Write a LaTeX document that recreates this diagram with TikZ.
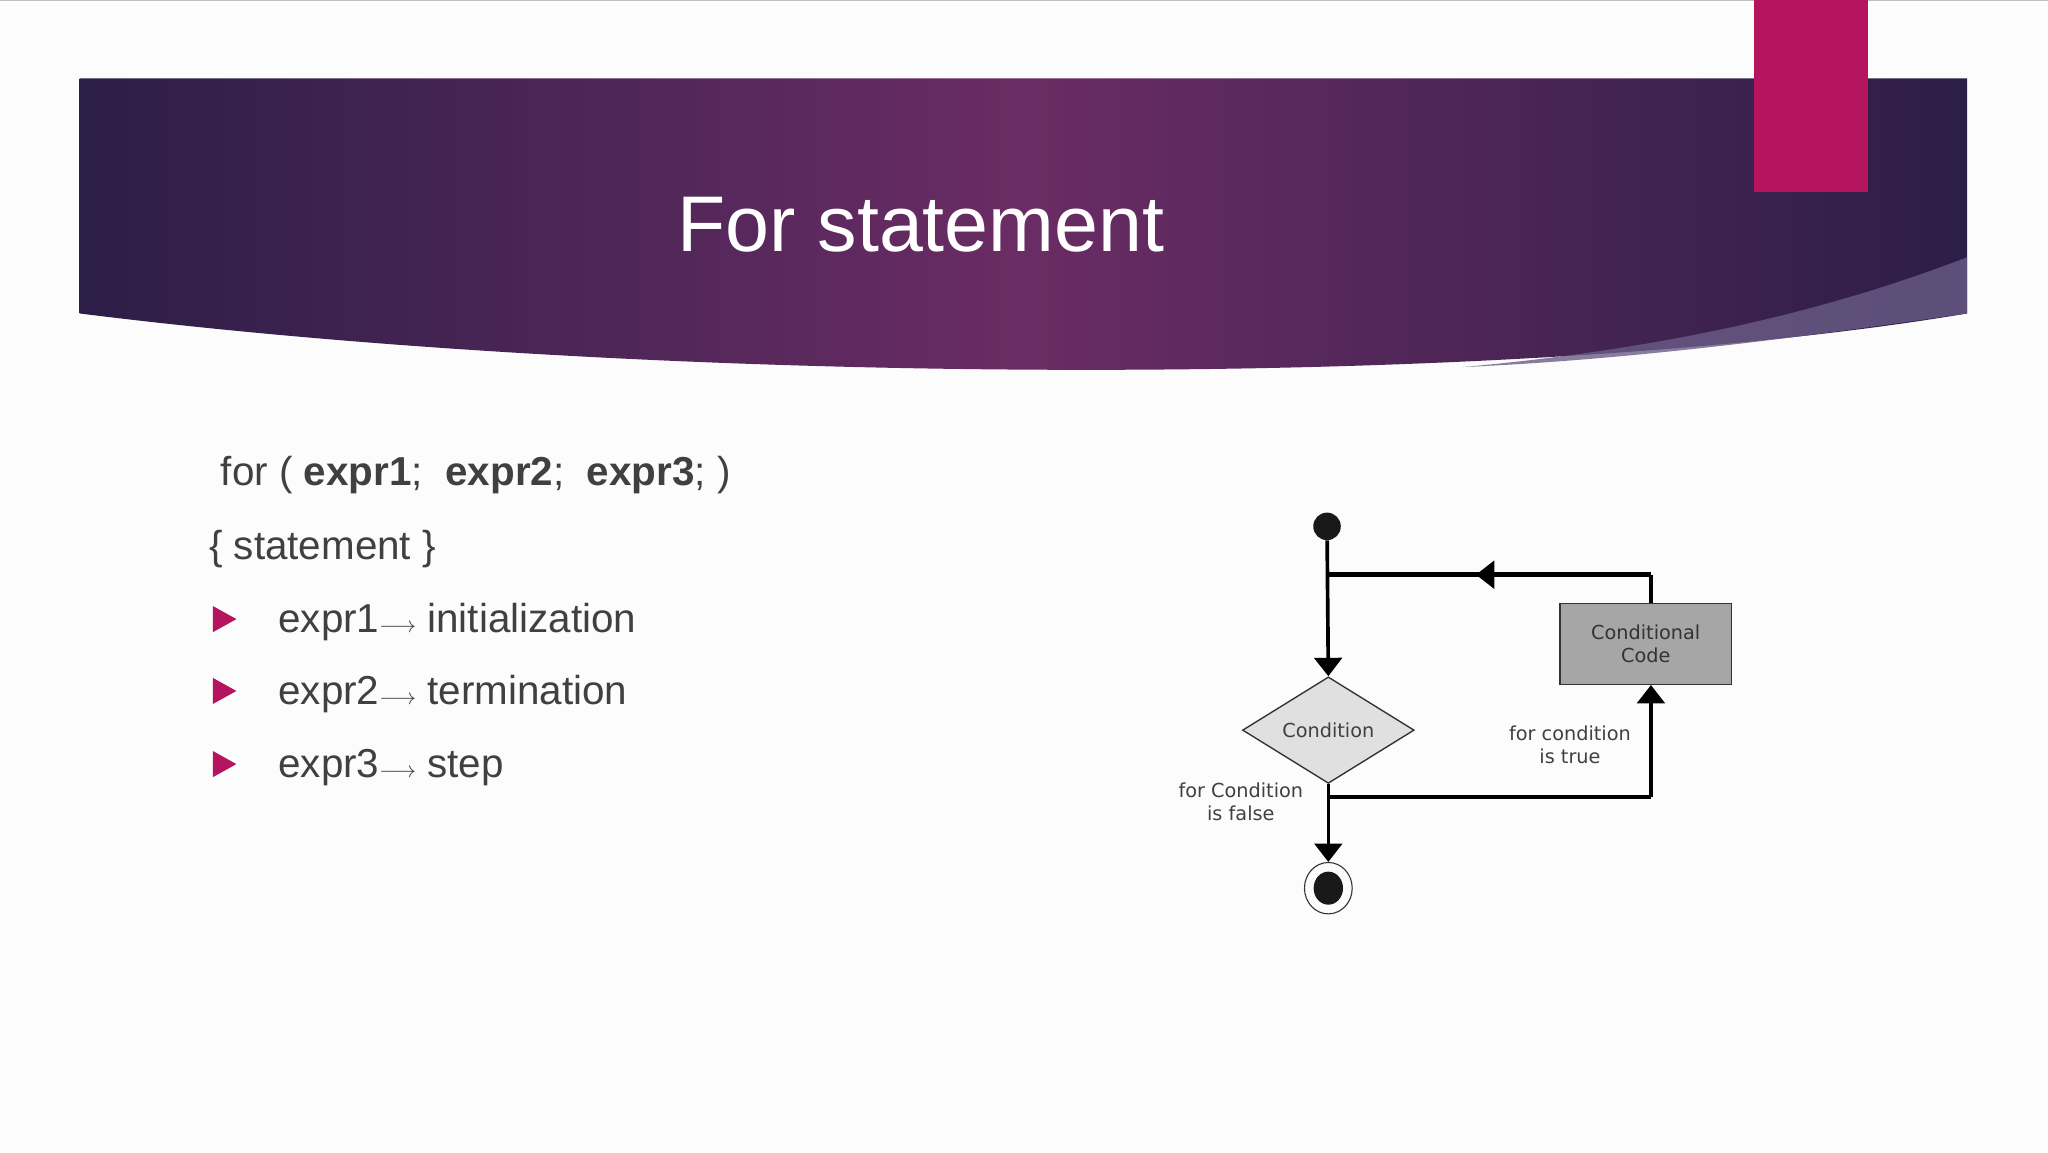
\documentclass[tikz,border=0pt]{standalone}
\usepackage{fontspec}
\setmainfont{Liberation Sans}
\newfontfamily\diafont{DejaVu Sans}
\usetikzlibrary{arrows.meta,shapes.geometric}
\definecolor{txt}{HTML}{404040}
\definecolor{mag}{HTML}{B5145F}
\definecolor{bandL}{HTML}{2C1E47}
\definecolor{bandM}{HTML}{6A2C64}
\definecolor{lite}{HTML}{6A5C86}
\tikzset{
  flow/.style={line width=4pt,draw=black},
  tip/.style={-{Triangle[length=20pt,width=30pt]}},
  lbl/.style={font=\diafont\fontsize{21}{25}\selectfont,text=black!75,align=center},
  body/.style={font=\fontsize{44}{52}\selectfont,text=txt,anchor=base west,inner sep=0pt},
  bul/.style={fill=mag,draw=none}
}
\begin{document}
\begin{tikzpicture}[x=0.5mm,y=-0.5mm]
\useasboundingbox (0,0) rectangle (1568,882);
\fill[white!99!black] (0,0) rectangle (1568,882);
\draw[black!25,line width=1pt] (0,0.5) -- (1568,0.5);
% banner
\shade[left color=bandL,right color=bandL,middle color=bandM]
  (61,60) -- (1506,60) -- (1506,240) .. controls (1150,300) and (500,295) .. (61,240) -- cycle;
\fill[lite,opacity=0.8] (1120,281) .. controls (1300,265) and (1420,230) .. (1506,197) -- (1506,240) .. controls (1400,255) and (1260,275) .. (1120,281) -- cycle;
\fill[mag] (1343,0) rectangle (1430,147);
\node[font=\fontsize{86}{96}\selectfont,text=white] (title) at (705,172) {For statement};
% text
\node[body] (l1) at (169,372) {for ( \textbf{expr1};\ \ \textbf{expr2};\ \ \textbf{expr3}; )};
\node[body] (l2) at (160,428) {\{ statement \}};
\node[body] (b1) at (213,484) {expr1\(\longrightarrow\) initialization};
\node[body] (b2) at (213,539) {expr2\(\longrightarrow\) termination};
\node[body] (b3) at (213,595) {expr3\(\longrightarrow\) step};
\foreach \yy in {474,529,585} \fill[bul] (163,\yy-10) -- (181,\yy) -- (163,\yy+10) -- cycle;
% diagram
\node[circle,fill=black!90,minimum size=30pt,inner sep=0pt] (start) at (1016,403) {};
\node[diamond,draw=black!80,line width=1.5pt,fill=black!12,minimum width=132\pgflinewidth,inner sep=0pt,
  minimum width=187pt,minimum height=116pt,aspect=1.6,lbl] (cond) at (1017,559) {Condition};
\node[rectangle,draw=black!80,line width=1.5pt,fill=black!35,minimum width=187pt,minimum height=88pt,lbl,text=black!80]
  (code) at (1260,493) {Conditional\\Code};
\node[circle,draw=black!80,line width=1.2pt,minimum width=52pt,minimum height=56pt,ellipse,inner sep=0pt] (endo) at (1017,680) {};
\node[ellipse,fill=black!90,minimum width=32pt,minimum height=36pt,inner sep=0pt] (endi) at (1017,680) {};
\coordinate (j1) at (1017,440);
\coordinate (j2) at (1017,610);
\coordinate (c1) at (1264,440);
\coordinate (c2) at (1264,610);
\draw[flow,tip] (start) -- (cond.north);
\draw[flow,tip] (cond.south) -- (endo.north);
\draw[flow,line width=6pt] (c1) -- (j1);
\draw[flow] (code.north -| c1) -- (c1);
\draw[flow,tip] (c1) -- (1130,440);
\draw[flow] (j2) -- (c2);
\draw[flow,tip] (c2) -- (code.south -| c2);
\node[lbl] (fl) at (950,614) {for Condition\\is false};
\node[lbl] (tr) at (1202,570) {for condition\\is true};
\end{tikzpicture}
\end{document}
